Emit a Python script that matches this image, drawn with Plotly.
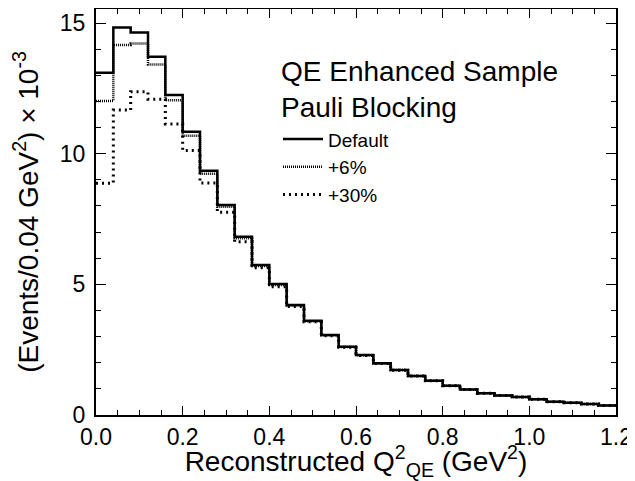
import numpy as np
import plotly.graph_objects as go

bin_width = 0.04
n_bins = 30
default_vals = [13.10, 14.83, 14.64, 13.71, 12.25, 10.84, 9.35, 8.04, 6.82, 5.74,
                5.01, 4.21, 3.61, 3.06, 2.61, 2.30, 1.98, 1.72, 1.49, 1.31,
                1.12, 0.98, 0.83, 0.75, 0.69, 0.60, 0.51, 0.47, 0.42, 0.36]
pb6_vals = [12.02, 14.16, 14.22, 13.42, 12.05, 10.69, 9.23, 7.97, 6.77, 5.70,
            4.98, 4.19, 3.59, 3.05, 2.60, 2.29, 1.97, 1.72, 1.49, 1.31,
            1.12, 0.98, 0.83, 0.75, 0.69, 0.60, 0.51, 0.47, 0.42, 0.36]
pb30_vals = [8.87, 11.67, 12.37, 12.09, 11.14, 10.12, 8.88, 7.76, 6.63, 5.64,
             4.91, 4.15, 3.57, 3.03, 2.59, 2.28, 1.97, 1.71, 1.49, 1.31,
             1.12, 0.98, 0.83, 0.75, 0.69, 0.60, 0.51, 0.47, 0.42, 0.36]
x_ticks = [0.0, 0.2, 0.4, 0.6, 0.8, 1.0, 1.2]
x_tick_labels = ["0.0", "0.2", "0.4", "0.6", "0.8", "1.0", "1.2"]
y_ticks = [0, 5, 10, 15]

edges = np.round(np.arange(n_bins + 1) * bin_width, 4)

def steps(vals):
    return list(vals) + [vals[-1]]

FONT = "Liberation Sans, Arial, Helvetica, sans-serif"

fig = go.Figure()
fig.add_trace(go.Scatter(x=edges, y=steps(pb30_vals), mode="lines", line_shape="hv",
                         line=dict(color="black", width=3, dash="2px,4px"),
                         name="+30%", legendrank=3))
fig.add_trace(go.Scatter(x=edges, y=steps(pb6_vals), mode="lines", line_shape="hv",
                         line=dict(color="black", width=2.5, dash="1px,1px"),
                         name="+6%", legendrank=2))
fig.add_trace(go.Scatter(x=edges, y=steps(default_vals), mode="lines", line_shape="hv",
                         line=dict(color="black", width=2.5),
                         name="Default", legendrank=1))

# page body has an 8px margin, so the figure is sized/offset to compensate
fig.update_layout(
    width=627, height=473,
    margin=dict(l=88, r=19, t=1, b=66),
    paper_bgcolor="white", plot_bgcolor="white",
    font=dict(family=FONT, color="black", size=23),
    showlegend=True,
    legend=dict(x=0.35, y=0.726, xanchor="left", yanchor="top",
                bgcolor="rgba(0,0,0,0)", font=dict(size=19),
                itemwidth=40, tracegroupgap=0),
    annotations=[
        dict(text="QE Enhanced Sample", x=0.3525, y=0.845, xref="paper", yref="paper",
             xanchor="left", yanchor="middle", showarrow=False, font=dict(size=28)),
        dict(text="Pauli Blocking", x=0.3525, y=0.757, xref="paper", yref="paper",
             xanchor="left", yanchor="middle", showarrow=False, font=dict(size=28)),
    ],
)
fig.update_xaxes(range=[0, 1.2], tickvals=x_ticks, ticktext=x_tick_labels,
                 automargin=False, tickfont=dict(size=23),
                 ticks="inside", ticklen=9, tickwidth=1, tickcolor="black",
                 showline=True, linecolor="black", linewidth=2, mirror="ticks",
                 showgrid=False, zeroline=False,
                 minor=dict(ticks="inside", dtick=0.05, ticklen=5, tickcolor="black", showgrid=False),
                 title=dict(text="Reconstructed Q<sup>2</sup><sub>QE</sub> (GeV<sup>2</sup>)",
                            font=dict(size=28), standoff=2))
fig.update_yaxes(range=[0, 15.54], tickvals=y_ticks,
                 automargin=False, tickfont=dict(size=23), ticklabelstandoff=4,
                 ticks="inside", ticklen=10, tickwidth=1, tickcolor="black",
                 showline=True, linecolor="black", linewidth=2, mirror="ticks",
                 showgrid=False, zeroline=False,
                 minor=dict(ticks="inside", dtick=1, ticklen=5, tickcolor="black", showgrid=False),
                 title=dict(text="(Events/0.04 GeV<sup>2</sup>) × 10<sup>-3</sup>",
                            font=dict(size=28), standoff=27))

fig.write_html("out.html")
